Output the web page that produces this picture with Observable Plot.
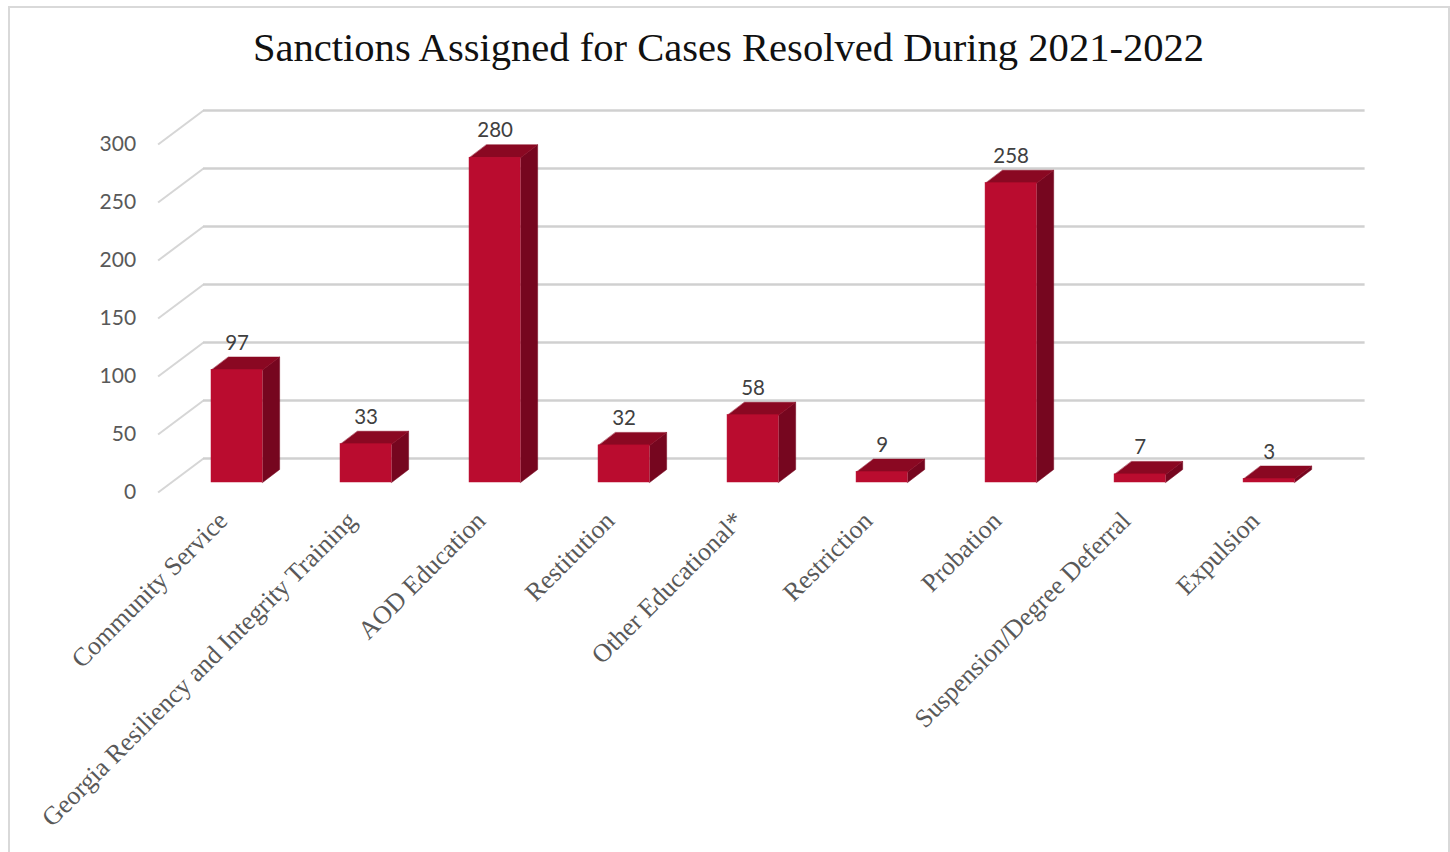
<!DOCTYPE html>
<html>
<head>
<meta charset="utf-8">
<script src="https://cdn.jsdelivr.net/npm/d3@7"></script>
<script src="https://cdn.jsdelivr.net/npm/@observablehq/plot@0.6"></script>
<style>
  html, body { margin: 0; padding: 0; background: #fff; overflow: hidden; width: 1450px; height: 852px; }
  #frame { position: absolute; left: 8px; top: 6px; width: 1438px; height: 900px; border: 2px solid #d9d9d9; }
  #title { position: absolute; left: 0; top: 0; width: 1457px; height: 90px; line-height: 96px; text-align: center;
           font-family: "Liberation Serif", serif; font-size: 40.6px; color: #111; white-space: nowrap; }
  #chart { position: absolute; left: 0; top: 90px; }
  #chart svg { overflow: visible; }
</style>
</head>
<body>
<div id="frame"></div>
<div id="title">Sanctions Assigned for Cases Resolved During 2021-2022</div>
<div id="chart"></div>
<script>
const categories = ["Community Service", "Georgia Resiliency and Integrity Training", "AOD Education", "Restitution", "Other Educational*", "Restriction", "Probation", "Suspension/Degree Deferral", "Expulsion"];
const sanctions = [97, 33, 280, 32, 58, 9, 258, 7, 3];
const yTicks = [0, 50, 100, 150, 200, 250, 300];

const halfBar = 0.198;    // half a bar, in category slots
const barDepthX = 0.132;  // bar depth, in category slots
const barDepthY = 11.2;   // bar depth, in sanctions
const wallLeft = -0.26, wallRight = 8.744, floorLeft = -0.612;
const wallRise = 20.7, floorDrop = 8.6;

const rows = categories.map((name, i) => ({name, i, value: sanctions[i]}));
const sideFaces = rows.flatMap(d => [
  [d.i + halfBar, 0], [d.i + halfBar + barDepthX, barDepthY],
  [d.i + halfBar + barDepthX, d.value + barDepthY], [d.i + halfBar, d.value]
].map(([x, y]) => ({x, y, z: d.i})));
const topFaces = rows.flatMap(d => [
  [d.i - halfBar, d.value], [d.i + halfBar, d.value],
  [d.i + halfBar + barDepthX, d.value + barDepthY], [d.i - halfBar + barDepthX, d.value + barDepthY]
].map(([x, y]) => ({x, y, z: d.i})));

const plot = Plot.plot({
  width: 1450,
  height: 762,
  marginLeft: 160,
  marginRight: 85,
  marginTop: 0,
  marginBottom: 0,
  style: {background: "transparent"},
  x: {axis: null, domain: [floorLeft, wallRight], range: [157.6, 1364.6]},
  y: {domain: [0, 300], range: [392, 44], axis: null},
  marks: [
    Plot.link(yTicks, {x1: floorLeft, x2: wallLeft, y1: d => d - floorDrop, y2: d => d + wallRise, stroke: "#d6d6d6", strokeWidth: 2}),
    Plot.ruleY(yTicks, {x1: wallLeft, x2: wallRight, y: d => d + wallRise, stroke: "#d0d0d0", strokeWidth: 2.4}),
    Plot.line(sideFaces, {x: "x", y: "y", z: "z", curve: "linear-closed", fill: "#76061f", stroke: "#76061f", strokeWidth: 0.5}),
    Plot.line(topFaces, {x: "x", y: "y", z: "z", curve: "linear-closed", fill: "#8a0822", stroke: "#8a0822", strokeWidth: 0.5}),
    Plot.rectY(rows, {x1: d => d.i - halfBar, x2: d => d.i + halfBar, y1: 0, y2: "value", fill: "#ba0c2f", stroke: "#ba0c2f", strokeWidth: 0.5}),
    Plot.text(rows, {x: "i", y: "value", text: d => String(d.value), dy: -27, dx: 0, fill: "#404040", fontSize: 20.5, fontFamily: "Lato"}),
    Plot.text(yTicks, {x: floorLeft, y: d => d, text: d => String(d), textAnchor: "end", dx: -22, dy: 10, fill: "#595959", fontSize: 21, fontFamily: "Lato"}),
    Plot.text(rows, {x: "i", y: 0, text: "name", rotate: -45, textAnchor: "end", dx: -14, dy: 34, fill: "#595959", fontSize: 25.9, fontFamily: "Liberation Serif"})
  ]
});
document.getElementById("chart").appendChild(plot);
</script>
</body>
</html>
